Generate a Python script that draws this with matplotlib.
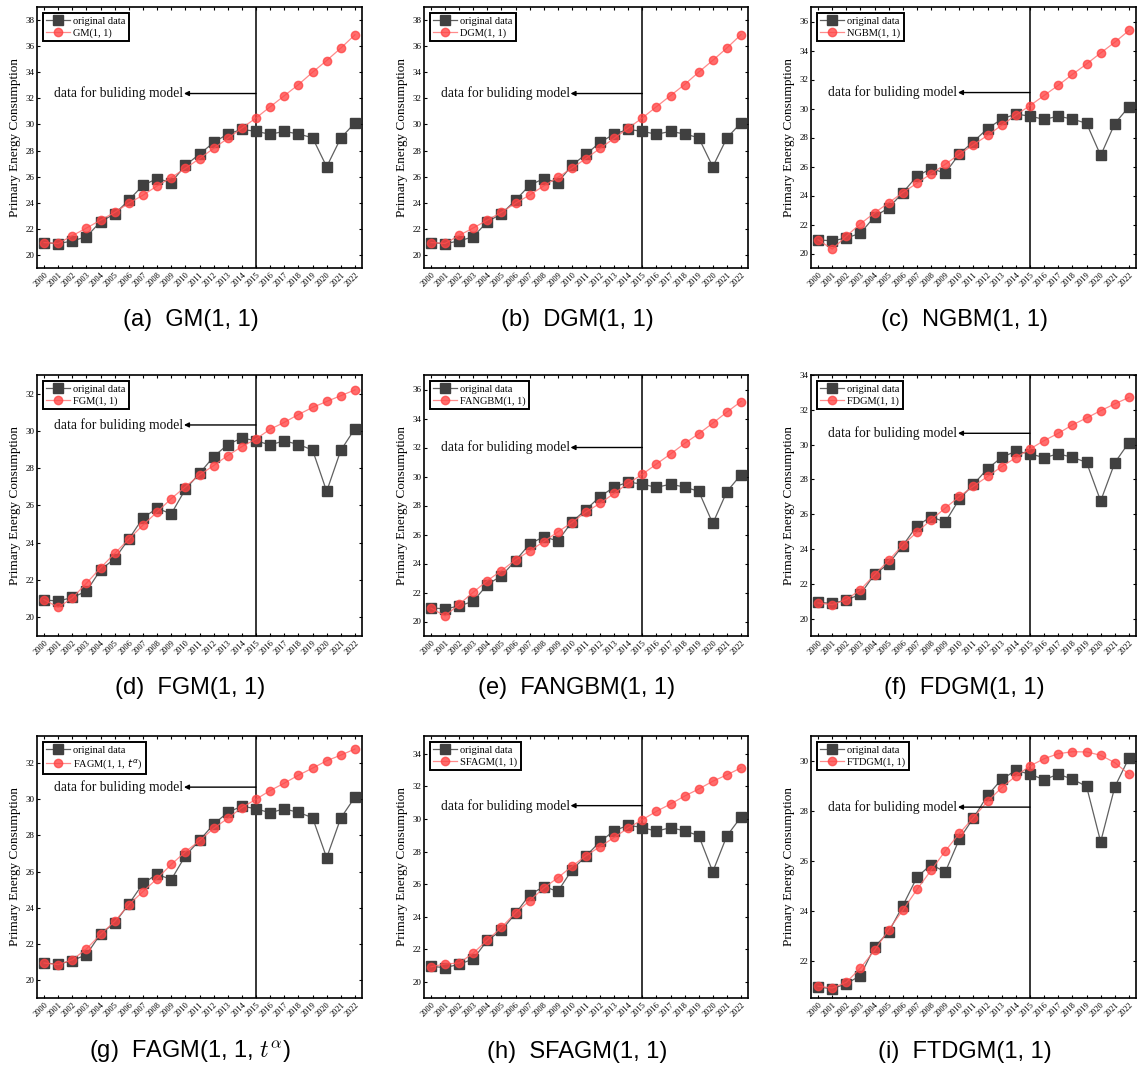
import matplotlib
matplotlib.use("Agg")
import matplotlib.pyplot as plt
import numpy as np

# ---------------- data ----------------
years = list(range(2000, 2023))
year_labels = [str(y) for y in years]

original = [20.94, 20.87, 21.07, 21.40, 22.55, 23.15, 24.20, 25.34, 25.85, 25.55, 26.87, 27.72,
            28.62, 29.27, 29.62, 29.47, 29.25, 29.47, 29.27, 28.98, 26.76, 28.96, 30.12]

gm = [20.95, 20.88, 21.48, 22.06, 22.67, 23.26, 23.97, 24.58, 25.29, 25.93, 26.64, 27.38,
      28.17, 28.93, 29.72, 30.50, 31.35, 32.20, 33.05, 34.00, 34.90, 35.85, 36.87]
dgm = [20.95, 20.88, 21.50, 22.07, 22.67, 23.27, 23.97, 24.59, 25.29, 25.94, 26.65, 27.39,
       28.17, 28.94, 29.72, 30.50, 31.36, 32.21, 33.06, 34.01, 34.91, 35.86, 36.88]
ngbm = [20.95, 20.30, 21.20, 22.05, 22.80, 23.50, 24.20, 24.85, 25.50, 26.15, 26.85, 27.50,
        28.15, 28.85, 29.55, 30.20, 30.90, 31.60, 32.35, 33.07, 33.83, 34.57, 35.38]
fgm = [20.95, 20.54, 21.04, 21.83, 22.66, 23.43, 24.20, 24.95, 25.65, 26.37, 27.00, 27.64,
       28.14, 28.68, 29.16, 29.57, 30.09, 30.46, 30.88, 31.26, 31.58, 31.89, 32.20]
fangbm = [20.92, 20.39, 21.19, 22.02, 22.82, 23.51, 24.25, 24.87, 25.51, 26.18, 26.82, 27.56,
          28.15, 28.84, 29.53, 30.15, 30.86, 31.55, 32.28, 32.95, 33.68, 34.44, 35.17]
fdgm = [20.90, 20.80, 21.09, 21.66, 22.52, 23.35, 24.23, 24.97, 25.68, 26.35, 27.02, 27.61,
        28.17, 28.74, 29.25, 29.75, 30.23, 30.65, 31.13, 31.53, 31.95, 32.34, 32.71]
fagm = [20.94, 20.85, 21.11, 21.72, 22.52, 23.24, 24.17, 24.89, 25.61, 26.39, 27.09, 27.70,
        28.39, 28.94, 29.54, 30.00, 30.48, 30.89, 31.33, 31.72, 32.13, 32.44, 32.78]
sfagm = [20.92, 21.09, 21.15, 21.76, 22.56, 23.34, 24.24, 24.98, 25.76, 26.39, 27.09, 27.75,
         28.30, 28.87, 29.45, 29.96, 30.47, 30.92, 31.41, 31.84, 32.32, 32.71, 33.14]
ftdgm = [20.97, 20.90, 21.13, 21.70, 22.41, 23.24, 24.02, 24.85, 25.62, 26.39, 27.10, 27.73,
         28.39, 28.93, 29.40, 29.80, 30.09, 30.29, 30.37, 30.36, 30.23, 29.93, 29.47]

model_series = [gm, dgm, ngbm, fgm, fangbm, fdgm, fagm, sfagm, ftdgm]
model_labels = ["GM(1, 1)", "DGM(1, 1)", "NGBM(1, 1)", "FGM(1, 1)", "FANGBM(1, 1)",
                "FDGM(1, 1)", r"FAGM(1, 1, $t^{\alpha}$)", "SFAGM(1, 1)", "FTDGM(1, 1)"]
captions = ["(a)  GM(1, 1)", "(b)  DGM(1, 1)", "(c)  NGBM(1, 1)", "(d)  FGM(1, 1)",
            "(e)  FANGBM(1, 1)", "(f)  FDGM(1, 1)", r"(g)  FAGM(1, 1, $t^{\alpha}$)",
            "(h)  SFAGM(1, 1)", "(i)  FTDGM(1, 1)"]
annotation_text = "data for buliding model"
split_year = 2015

# ---------------- layout / style ----------------
ylims = [(19, 39), (19, 39), (19, 37), (19, 33), (19, 37), (19, 34), (19, 33.5), (19, 35.1), (20.5, 31)]
yticks = [np.arange(20, 39, 2), np.arange(20, 39, 2), np.arange(20, 37, 2), np.arange(20, 33, 2),
          np.arange(20, 37, 2), np.arange(20, 35, 2), np.arange(20, 33, 2), np.arange(20, 35, 2),
          np.arange(22, 31, 2)]
arrow_y = [32.37, 32.37, 31.1, 30.32, 32.0, 30.65, 30.67, 30.82, 28.15]

W, H = 1137, 1072
fig = plt.figure(figsize=(W / 100, H / 100), dpi=100)

col_px = [(37, 362), (424, 748), (811, 1136)]
row_px = [(7, 268), (375, 636), (736, 998)]
cap_y_px = [320, 688, 1052]

serif = ["Liberation Serif", "DejaVu Serif"]
sans = ["Liberation Sans", "DejaVu Sans"]

gray = "#404040"
red = "#ff4444"

for i in range(9):
    r, c = divmod(i, 3)
    x0, x1 = col_px[c]
    y0, y1 = row_px[r]
    ax = fig.add_axes([x0 / W, 1 - y1 / H, (x1 - x0) / W, (y1 - y0) / H])

    ax.plot(years, original, color="#606060", lw=0.9, marker="s", ms=6.5,
            mfc=gray, mec=gray, label="original data", zorder=3)
    ax.plot(years, model_series[i], color="#ff6a6a", lw=0.9, marker="o", ms=6,
            mfc=red, mec=red, alpha=0.78, label=model_labels[i], zorder=4)

    ax.axvline(split_year, color="black", lw=1.1, zorder=2)

    ax.set_xlim(1999.5, 2022.5)
    ax.set_ylim(*ylims[i])
    ax.set_xticks(years)
    ax.set_xticklabels(year_labels, rotation=45, fontsize=6, family=serif,
                       ha="right", va="top", rotation_mode="anchor")
    ax.set_yticks(yticks[i])
    ax.set_yticklabels([str(int(v)) for v in yticks[i]], fontsize=6.5, family=serif)
    ax.tick_params(direction="in", top=True, right=True, length=2.5, width=0.8, pad=2)
    ax.tick_params(axis="x", pad=2)
    for s in ax.spines.values():
        s.set_linewidth(1.2)

    ax.set_ylabel("Primary Energy Consumption", fontsize=9.5, family=serif, labelpad=3)

    leg = ax.legend(loc="upper left", prop={"family": serif, "size": 7.5},
                    fancybox=False, edgecolor="black", framealpha=1,
                    borderpad=0.3, handlelength=2.3, handletextpad=0.3,
                    labelspacing=0.25, borderaxespad=0.6)
    leg.get_frame().set_linewidth(1.4)

    head_x = 2009.9
    ax.annotate("", xy=(head_x, arrow_y[i]), xytext=(split_year, arrow_y[i]),
                arrowprops=dict(arrowstyle="-|>", color="black", lw=1.0,
                                mutation_scale=7, shrinkA=0, shrinkB=0), zorder=5)
    ax.text(head_x - 0.05, arrow_y[i], annotation_text, ha="right", va="center",
            fontsize=9.8, family=serif, color="#141414", zorder=5)

    fig.text(((x0 + x1) / 2 - 9) / W, 1 - cap_y_px[r] / H, captions[i],
             ha="center", va="center", fontsize=17, family=sans,
             math_fontfamily="cm")

fig.savefig("out.png", dpi=100)
